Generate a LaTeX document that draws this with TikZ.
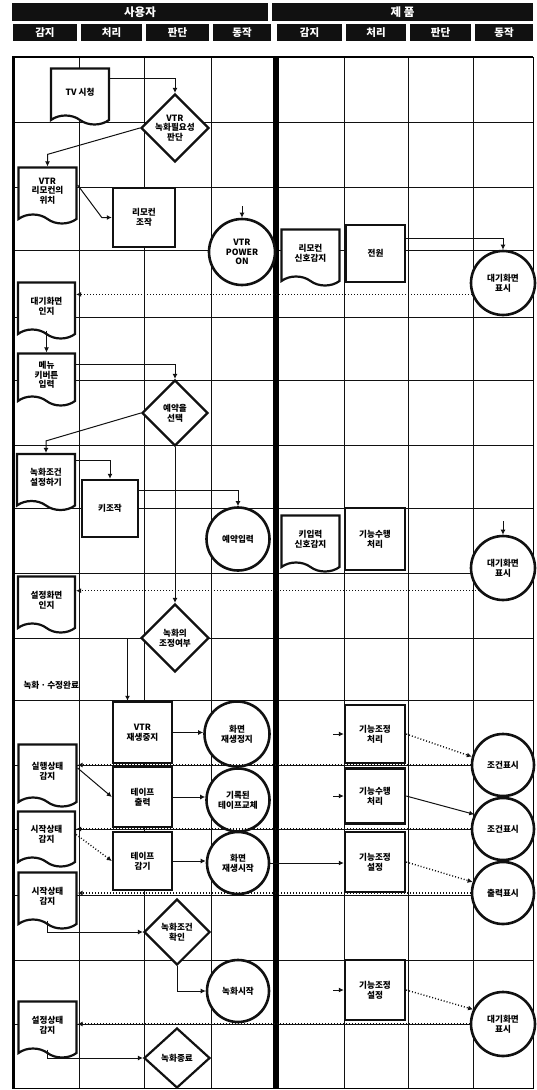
\documentclass[tikz,border=0pt]{standalone}
\usepackage{fontspec}
\setmainfont{Noto Sans CJK KR}
\usetikzlibrary{arrows.meta, shapes.geometric, shapes.symbols, calc}
\definecolor{fcInk}{HTML}{111111}
\newcommand{\lbsize}{\fontsize{8.6}{9.6}\selectfont\bfseries}
\tikzset{
  docnode/.style={
    shape=tape, tape bend top=none, tape bend bottom=out and in,
    tape bend height=9pt, draw=fcInk, line width=2.2pt, fill=white,
    align=center, font=\lbsize, inner sep=0pt,
    minimum width=58pt, minimum height=56pt
  },
  procbox/.style={draw=fcInk, line width=2.4pt, fill=white, align=center,
    font=\lbsize, inner sep=0pt, minimum width=59pt, minimum height=59pt},
  decide/.style={diamond, draw=fcInk, line width=2.2pt, fill=white, align=center,
    font=\lbsize, inner sep=0pt, aspect=1, minimum width=68pt, minimum height=68pt},
  actcirc/.style={circle, draw=fcInk, line width=2.6pt, fill=white, align=center,
    font=\lbsize, inner sep=0pt, minimum size=63pt},
  hdrcell/.style={fill=fcInk, text=white, inner sep=0pt, minimum height=17pt,
    font=\bfseries\fontsize{10.5}{11}\selectfont},
  gridln/.style={line width=0.6pt, draw=fcInk},
  flow/.style={-{Latex[length=5pt,width=5pt]}, line width=1pt, draw=fcInk},
  dotflow/.style={flow, dotted, line width=1.4pt},
}

\begin{document}
\begin{tikzpicture}[x=1pt, y=-1pt]
  \useasboundingbox (0,0) rectangle (536,1090);

  % header
  \node[hdrcell, minimum width=256pt, minimum height=18pt,
        font=\bfseries\fontsize{11.5}{12}\selectfont] (husr) at (140,12) {사용자};
  \node[hdrcell, minimum width=261pt, minimum height=18pt,
        font=\bfseries\fontsize{11.5}{12}\selectfont] (hprd) at (402.5,12) {제 품};
  \foreach \cx/\cw/\txt [count=\i] in {45/64/감지, 111.5/61/처리, 177.5/63/판단, 242/58/동작,
                                       309.5/65/감지, 376/60/처리, 440.5/61/판단, 504/58/동작}
    \node[hdrcell, minimum width=\cw pt] (hc\i) at (\cx,32.5) {\txt};

  % grid and frame
  \foreach \gy in {122,187,250,317,380,445,508,573,638,700,765,829,895,960,1024}
    \draw[gridln] (13,\gy) -- (533,\gy);
  \foreach \gx in {79,144,211,344,408,473}
    \draw[gridln] (\gx,57) -- (\gx,1088);
  \draw[line width=0.8pt] (13,57) rectangle (533,1088);
  \draw[line width=3pt] (13,56) -- (13,1089);
  \draw[line width=2.5pt] (12,57) -- (533,57);
  \draw[line width=6pt] (276,57) -- (276,1088);

  % user side
  \node[docnode] (tv) at (80,92) {TV 시청};
  \node[decide] (vrd) at (175,128) {VTR\\녹화필요성\\판단};
  \node[docnode] (rcd) at (47.5,191) {VTR\\리모컨의\\위치};
  \node[procbox, minimum width=62pt] (rco) at (144,217.5) {리모컨\\조작};
  \node[actcirc, minimum size=66pt] (pon) at (242,252) {VTR\\POWER\\ON};
  \node[docnode, minimum width=57pt] (scn) at (46.5,306) {대기화면\\인지};
  \node[docnode, minimum width=57pt, minimum height=52pt] (mky) at (46.5,375) {메뉴\\키버튼\\입력};
  \node[decide, minimum width=66pt, minimum height=66pt] (rsv) at (175,413) {예약을\\선택};
  \node[docnode] (cnd) at (46,477.5) {녹화조건\\설정하기};
  \node[procbox, minimum width=56pt, minimum height=57pt] (kop) at (110,508.5) {키조작};
  \node[actcirc] (rin) at (238,539) {예약입력};
  \node[docnode, minimum width=57pt] (sti) at (46.5,600) {설정화면\\인지};
  \node[decide] (adj) at (175,638) {녹화의\\조정여부};
  \node[font=\lbsize, anchor=west] (fin) at (20,685) {녹화ㆍ수정완료};
  \node[procbox, minimum height=61pt] (vst) at (142.5,732.5) {VTR\\재생중지};
  \node[actcirc, minimum size=65pt] (pst) at (237,734) {화면\\재생정지};
  \node[docnode, minimum height=62pt] (rns) at (47.5,771) {실행상태\\감지};
  \node[procbox, minimum height=60pt] (tpo) at (142.5,797) {테이프\\출력};
  \node[actcirc] (tch) at (238,800) {기록된\\테이프교체};
  \node[docnode, minimum width=57pt, minimum height=55pt] (sts) at (46.5,834.5) {시작상태\\감지};
  \node[procbox, minimum height=58pt] (twd) at (142.5,861) {테이프\\감기};
  \node[actcirc, minimum size=62pt] (pbg) at (238,863) {화면\\재생시작};
  \node[docnode] (sts2) at (47.5,896) {시작상태\\감지};
  \node[decide, minimum width=66pt, minimum height=66pt] (ckc) at (177,932) {녹화조건\\확인};
  \node[actcirc, minimum size=62pt] (rst) at (238,991) {녹화시작};
  \node[docnode] (sets) at (47.5,1025) {설정상태\\감지};
  \node[decide, minimum width=66pt, minimum height=60pt] (rend) at (177,1058) {녹화종료};

  % product side
  \node[docnode] (rsg) at (310.5,253) {리모컨\\신호감지};
  \node[procbox, minimum height=57pt] (pwr) at (375.5,253.5) {전원};
  \node[actcirc, minimum size=64pt] (sb1) at (503,283) {대기화면\\표시};
  \node[docnode] (ksg) at (310.5,539) {키입력\\신호감지};
  \node[procbox, minimum width=60pt, minimum height=62pt] (fx1) at (375,539) {기능수행\\처리};
  \node[actcirc, minimum size=64pt] (sb2) at (503,568) {대기화면\\표시};
  \node[procbox, minimum width=60pt, minimum height=58pt] (fa) at (375,734) {기능조정\\처리};
  \node[procbox, minimum width=60pt, minimum height=55pt] (fb) at (375,796) {기능수행\\처리};
  \node[procbox, minimum width=60pt, minimum height=60pt] (fc) at (375,862) {기능조정\\설정};
  \node[procbox, minimum width=60pt, minimum height=60pt] (fd) at (375,990) {기능조정\\설정};
  \node[actcirc, minimum size=62pt] (sa) at (503,765) {조건표시};
  \node[actcirc, minimum size=62pt] (sbb) at (503,829) {조건표시};
  \node[actcirc, minimum size=62pt] (sc) at (503,893) {출력표시};
  \node[actcirc, minimum size=64pt] (sd) at (503,1024) {대기화면\\표시};

  \coordinate (ponin) at (242,206);
  \coordinate (sb2in) at (503,521);
  \coordinate (fain) at (333,734);
  \coordinate (fbin) at (333,796);
  \coordinate (fdin) at (333,990);

  % connectors
  \draw[flow] ([yshift=14pt]tv.east) -| (vrd.north);
  \draw[flow] (vrd.west) -- ([yshift=12pt]rcd.north) -- (rcd.north);
  \draw[flow] ([yshift=6pt]rcd.east) -- ([xshift=-10pt]rco.west) -- (rco.west);
  \draw[flow] (ponin) -- (pon.north);
  \draw[flow] ([yshift=15pt]pwr.east) -| (sb1.north);
  \draw[dotflow] (sb1.200) -- (sb1.200 -| scn.east);
  \draw[flow] (scn.south) -- (mky.north);
  \draw[flow] ([yshift=11pt]mky.east) -| (rsv.north);
  \draw[flow] (rsv.west) -- ([yshift=12pt]cnd.north) -- (cnd.north);
  \draw[flow] (rsv.south) -- (adj.north);
  \draw[flow] ([yshift=17pt]cnd.east) -| (kop.north);
  \draw[flow] ([yshift=18pt]kop.east) -| (rin.north);
  \draw[flow] (sb2in) -- (sb2.north);
  \draw[dotflow] (sb2.223) -- (sb2.223 -| sti.east);
  \draw[flow] (adj.west) -| ([xshift=-15pt]vst.north);
  \draw[flow] (vst.east) -- (vst.east -| pst.west);
  \draw[dotflow] (sa.west) -- (sa.west -| rns.east);
  \draw[flow] ([yshift=3pt]rns.east) -- (tpo.west);
  \draw[flow] (tpo.east) -- (tpo.east -| tch.west);
  \draw[dotflow] (sbb.west) -- (sbb.west -| sts.east);
  \draw[dotflow] (sts.east) -- (twd.west);
  \draw[flow] (twd.east) -- (twd.east -| pbg.west);
  \draw[dotflow] (sc.west) -- (sc.west -| sts2.east);
  \draw[flow] (sts2.south) |- (ckc.west);
  \draw[flow] (ckc.south) |- (rst.west);
  \draw[dotflow] (sd.west) -- (sd.west -| sets.east);
  \draw[flow] (sets.south) |- (rend.west);

  \draw[flow] (fain) -- (fa.west);
  \draw[flow] (fbin) -- (fb.west);
  \draw[flow] (fdin) -- (fd.west);
  \draw[flow] (pbg.east) -- (pbg.east -| fc.west);
  \draw[dotflow] (fa.east) -- (sa.165);
  \draw[flow] (fb.east) -- (sbb.153);
  \draw[dotflow] (fc.east) -- (sc.160);
  \draw[dotflow] (fd.east) -- (sd.154);
\end{tikzpicture}
\end{document}
